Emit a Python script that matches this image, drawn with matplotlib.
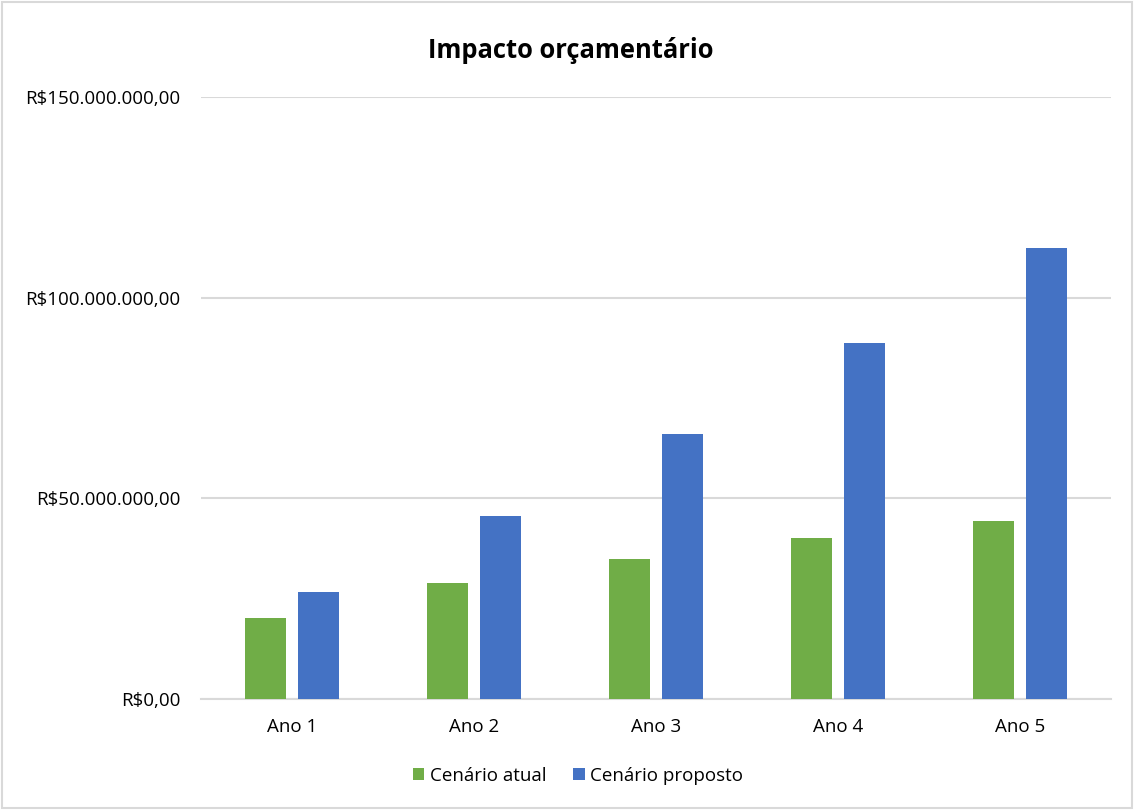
import matplotlib
matplotlib.use("Agg")
import matplotlib.pyplot as plt
import numpy as np
from matplotlib.ticker import FuncFormatter
from matplotlib.patches import Rectangle

categories = ["Ano 1", "Ano 2", "Ano 3", "Ano 4", "Ano 5"]
atual = [20.0e6, 28.8e6, 34.8e6, 40.0e6, 44.3e6]
proposto = [26.5e6, 45.6e6, 66.0e6, 88.7e6, 112.4e6]
series_names = ["Cenário atual", "Cenário proposto"]
colors = ["#70AD47", "#4472C4"]

plt.rcParams['font.family'] = ['Open Sans', 'DejaVu Sans']

fig = plt.figure(figsize=(11.34, 8.10), dpi=100)
ax = fig.add_axes([201/1134, 111.4/810, 910/1134, (698.6-97)/810])

x = np.arange(len(categories))
w = 0.225
off = 0.1456
ax.bar(x - off, atual, width=w, color=colors[0], label=series_names[0], zorder=3)
ax.bar(x + off, proposto, width=w, color=colors[1], label=series_names[1], zorder=3)

ax.set_xlim(-0.5, 4.5)
ax.set_ylim(0, 150e6)
ax.set_yticks([0, 50e6, 100e6, 150e6])

def fmt(v, pos):
    s = f"{v:,.2f}"
    s = s.replace(",", "X").replace(".", ",").replace("X", ".")
    return "R$" + s

ax.yaxis.set_major_formatter(FuncFormatter(fmt))
ax.set_xticks(x)
ax.set_xticklabels(categories)
ax.grid(axis='y', color='#d9d9d9', linewidth=1.5, zorder=0)
for s in ['top', 'right', 'left']:
    ax.spines[s].set_visible(False)
ax.spines['bottom'].set_color('#d9d9d9')
ax.spines['bottom'].set_linewidth(1.5)
ax.tick_params(axis='both', length=0, labelsize=13.5, colors='#000000')
ax.tick_params(axis='x', pad=14)
ax.tick_params(axis='y', pad=15)

fig.text(571/1134, 1 - 50/810, "Impacto orçamentário", ha='center', va='center',
         fontsize=18.4, fontweight='bold')

leg = fig.legend(loc='center', bbox_to_anchor=(578/1134, 1 - 776/810), ncol=2,
                 frameon=False, fontsize=13.5, handlelength=0.6, handleheight=0.6,
                 handletextpad=0.3, columnspacing=1.45)

fig.patches.append(Rectangle((0.002, 0.002), 0.996, 0.996, transform=fig.transFigure,
                             fill=False, edgecolor='#d9d9d9', linewidth=1.5))

fig.savefig("out.png", dpi=100, facecolor='white')
